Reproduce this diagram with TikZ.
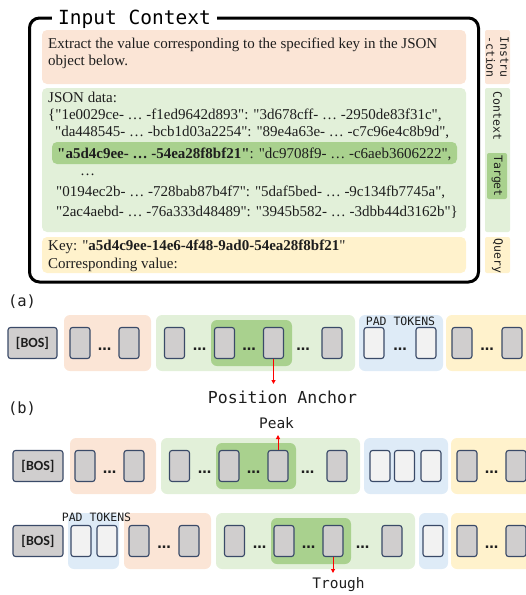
\documentclass[tikz,border=0pt]{standalone}
\usepackage{fontspec}
\setmainfont{Liberation Serif}[Ligatures=TeXOff]
\newfontfamily\codefont{DejaVu Sans Mono}
\newfontfamily\bosfont{Carlito}
\newfontfamily\dotfont{DejaVu Sans}
\usetikzlibrary{arrows.meta,positioning}

\definecolor{instrcol}{HTML}{FBE5D6}
\definecolor{ctxcol}{HTML}{E2F0D9}
\definecolor{tgtcol}{HTML}{A9D18E}
\definecolor{qrycol}{HTML}{FFF2CC}
\definecolor{padcol}{HTML}{DEEBF7}
\definecolor{tokcol}{HTML}{D0CECE}
\definecolor{padtokcol}{HTML}{F2F2F2}
\definecolor{edgecol}{HTML}{3A4A68}
\definecolor{inkcol}{HTML}{1E1E1E}

\tikzset{
  panel/.style={rounded corners=5pt},
  tabbox/.style={rounded corners=2pt},
  grp/.style={rounded corners=6pt},
  line/.style={font=\fontsize{15}{18}\selectfont, text=inkcol, inner sep=0pt, anchor=base west},
  tab/.style={font=\codefont\fontsize{11.5}{14}\selectfont, text=inkcol, rotate=-90, align=center, inner sep=0pt},
  tok/.style={draw=edgecol, fill=tokcol, line width=1.1pt, rounded corners=2.5pt, minimum width=20pt, minimum height=31pt, inner sep=0pt},
  padtok/.style={tok, fill=padtokcol},
  bos/.style={tok, minimum width=49pt, font=\bosfont\bfseries\fontsize{14}{14}\selectfont, text=inkcol},
  dots/.style={font=\dotfont\bfseries\fontsize{13.5}{13.5}\selectfont, text=inkcol, inner sep=0pt},
  lbl/.style={font=\codefont\fontsize{15.5}{16}\selectfont, text=inkcol, inner sep=0pt},
  padlbl/.style={font=\codefont\fontsize{11.5}{12}\selectfont, text=inkcol, inner sep=0pt},
  pointer/.style={red, line width=1pt, -{Triangle[length=4pt,width=4pt]}},
}

\begin{document}
\begin{tikzpicture}[x=1pt, y=-1pt]
\useasboundingbox (0,0) rectangle (526,595);

% input context frame
\draw[line width=3pt, rounded corners=10pt] (29.5,18) rectangle (478.5,282);
\node[fill=white, font=\codefont\fontsize{19.5}{20}\selectfont, inner xsep=6pt, inner ysep=1pt, anchor=base] (title) at (134.5,24) {Input Context};

\fill[instrcol, panel] (42,30) rectangle (466,84);
\fill[ctxcol, panel] (42,88) rectangle (466,232);
\fill[tgtcol, panel] (52,142) rectangle (457,164);
\fill[qrycol, panel] (42,237) rectangle (466,273);

\node[line] (instr1) at (48,48) {Extract the value corresponding to the specified key in the JSON};
\node[line] (instr2) at (48,65) {object below.};

\node[line] (ctx1) at (48,102) {JSON data:};
\node[line] (ctx2) at (48,119) {\{"1e0029ce- … -f1ed9642d893": "3d678cff- … -2950de83f31c",};
\node[line] (ctx3) at (55,136) {"da448545- … -bcb1d03a2254": "89e4a63e- … -c7c96e4c8b9d",};
\node[line] (ctx4) at (57,158) {\textbf{"a5d4c9ee- … -54ea28f8bf21"}: "dc9708f9- … -c6aeb3606222",};
\node[line] (ctx5) at (80,175) {…};
\node[line] (ctx6) at (56,196) {"0194ec2b- … -728bab87b4f7": "5daf5bed- … -9c134fb7745a",};
\node[line] (ctx7) at (56,216) {"2ac4aebd- … -76a333d48489": "3945b582- … -3dbb44d3162b"\}};

\node[line] (qry1) at (48,250) {Key: "\textbf{a5d4c9ee-14e6-4f48-9ad0-54ea28f8bf21}"};
\node[line] (qry2) at (48,268) {Corresponding value:};

% side tabs
\fill[instrcol, tabbox] (485,30) rectangle (510,84);
\fill[ctxcol, tabbox] (485,88) rectangle (510,232);
\fill[tgtcol, tabbox] (487,153) rectangle (507,199);
\fill[qrycol, tabbox] (485,237) rectangle (510,273);
\node[tab] (instrtab) at (497.5,57) {Instru\\-ction};
\node[tab] (ctxtab) at (497.5,116) {Context};
\node[tab] (tgttab) at (497,176) {Target};
\node[tab] (qrytab) at (497.5,256) {Query};

% (a)
\node[lbl] (parta) at (22,302) {(a)};
\fill[instrcol, grp] (64,315) rectangle (151,371);
\fill[ctxcol, grp] (156,315) rectangle (355,371);
\fill[tgtcol, grp] (211,320) rectangle (292,366);
\fill[padcol, grp] (359,315) rectangle (443,371);
\fill[qrycol, grp] (446,315) rectangle (540,371);

\node[bos] (bosa) at (32.5,343) {[BOS]};
\node[tok] (a1) at (80,343) {};
\node[dots] (ad1) at (104.5,349) {…};
\node[tok] (a2) at (129,343) {};
\node[tok] (a3) at (174.5,343) {};
\node[dots] (ad2) at (199.5,349) {…};
\node[tok] (a4) at (224.5,343) {};
\node[dots] (ad3) at (249,349) {…};
\node[tok] (a5) at (273.5,343) {};
\node[dots] (ad4) at (303,349) {…};
\node[tok] (a6) at (332,343) {};
\node[padlbl] (padlbla) at (400.5,321) {PAD TOKENS};
\node[padtok] (ap1) at (374,343) {};
\node[dots] (ad5) at (400,349) {…};
\node[padtok] (ap2) at (426,343) {};
\node[tok] (aq1) at (462,343) {};
\node[dots] (ad6) at (487,349) {…};
\node[tok] (aq2) at (512,343) {};

\coordinate (anchortip) at (273.5,384);
\draw[pointer] (a5.south) -- (anchortip);
\node[lbl, font=\codefont\fontsize{16.5}{17}\selectfont] (anchorlbl) at (282.5,397) {Position Anchor};

% (b)
\node[lbl] (partb) at (22,409) {(b)};
\fill[instrcol, grp] (70,438) rectangle (156,494);
\fill[ctxcol, grp] (161,438) rectangle (360,494);
\fill[tgtcol, grp] (216,443) rectangle (296,489);
\fill[padcol, grp] (364,438) rectangle (448,494);
\fill[qrycol, grp] (451,438) rectangle (540,494);

\node[bos, minimum width=50pt] (bosb) at (38,466) {[BOS]};
\node[tok] (b1) at (85,466) {};
\node[dots] (bd1) at (109.5,472) {…};
\node[tok] (b2) at (134,466) {};
\node[tok] (b3) at (179.5,466) {};
\node[dots] (bd2) at (204.5,472) {…};
\node[tok] (b4) at (229,466) {};
\node[dots] (bd3) at (253.5,472) {…};
\node[tok] (b5) at (278,466) {};
\node[dots] (bd4) at (307.5,472) {…};
\node[tok] (b6) at (337,466) {};
\node[padtok] (bp1) at (380,466) {};
\node[padtok] (bp2) at (404.5,466) {};
\node[padtok] (bp3) at (431,466) {};
\node[tok] (bq1) at (467,466) {};
\node[dots] (bd5) at (491.5,472) {…};
\node[tok] (bq2) at (516,466) {};

\coordinate (peaktip) at (278,435);
\draw[pointer] (b5.north) -- (peaktip);
\node[lbl, font=\codefont\fontsize{14.5}{15}\selectfont] (peaklbl) at (276.5,423) {Peak};

\fill[padcol, grp] (68,513) rectangle (119,569);
\fill[instrcol, grp] (124,513) rectangle (211,569);
\fill[ctxcol, grp] (216,513) rectangle (415,569);
\fill[tgtcol, grp] (271,518) rectangle (351,564);
\fill[padcol, grp] (419,513) rectangle (448,569);
\fill[qrycol, grp] (451,513) rectangle (540,569);

\node[bos, minimum width=50pt] (bosc) at (38,541) {[BOS]};
\node[padtok] (cp1) at (81,541) {};
\node[padtok] (cp2) at (107,541) {};
\node[padlbl] (padlblc) at (96.5,517) {PAD TOKENS};
\node[tok] (c1) at (139,541) {};
\node[dots] (cd1) at (164,547) {…};
\node[tok] (c2) at (189,541) {};
\node[tok] (c3) at (234.5,541) {};
\node[dots] (cd2) at (259.5,547) {…};
\node[tok] (c4) at (284,541) {};
\node[dots] (cd3) at (308.5,547) {…};
\node[tok] (c5) at (333,541) {};
\node[dots] (cd4) at (362.5,547) {…};
\node[tok] (c6) at (392,541) {};
\node[padtok] (cp3) at (433,541) {};
\node[tok] (cq1) at (467,541) {};
\node[dots] (cd5) at (491.5,547) {…};
\node[tok] (cq2) at (516,541) {};

\coordinate (troughtip) at (333,573);
\draw[pointer] (c5.south) -- (troughtip);
\node[lbl, font=\codefont\fontsize{14.5}{15}\selectfont] (troughlbl) at (338.5,585) {Trough};
\end{tikzpicture}
\end{document}
